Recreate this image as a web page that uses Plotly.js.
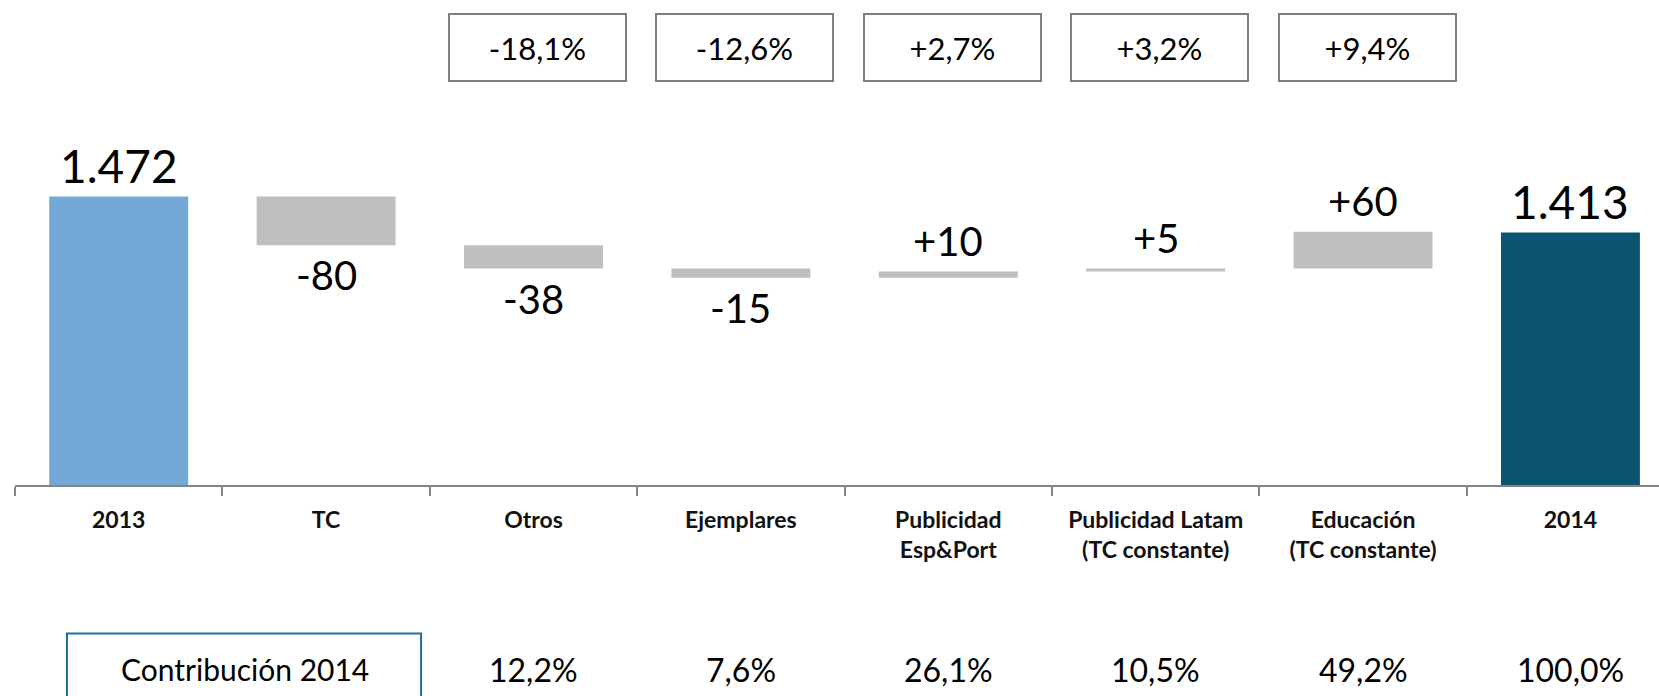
<!DOCTYPE html>
<html>
<head>
<meta charset="utf-8">
<script src="https://cdn.plot.ly/plotly-3.0.1.min.js"></script>
<style>
  html, body { margin: 0; padding: 0; background: #ffffff; }
  #chart { width: 1659px; height: 696px; }
</style>
</head>
<body>
<div id="chart"></div>
<script>
// ---- data ----
var categories = ['2013', 'TC', 'Otros', 'Ejemplares', 'Publicidad Esp&Port', 'Publicidad Latam', 'Educación', '2014'];
var tickLabels = ['2013', 'TC', 'Otros', 'Ejemplares', 'Publicidad<br>Esp&Port', 'Publicidad Latam<br>(TC constante)', 'Educación<br>(TC constante)', '2014'];
var values = [1472, -80, -38, -15, 10, 5, 60, 1413];
var measures = ['total', 'relative', 'relative', 'relative', 'relative', 'relative', 'relative', 'total'];
var valueLabels = ['1.472', '-80', '-38', '-15', '+10', '+5', '+60', '1.413'];
var growthCategories = ['Otros', 'Ejemplares', 'Publicidad Esp&Port', 'Publicidad Latam', 'Educación'];
var growthLabels = ['-18,1%', '-12,6%', '+2,7%', '+3,2%', '+9,4%'];
var contributionCategories = ['Otros', 'Ejemplares', 'Publicidad Esp&Port', 'Publicidad Latam', 'Educación', '2014'];
var contributionLabels = ['12,2%', '7,6%', '26,1%', '10,5%', '49,2%', '100,0%'];
var contributionTitle = 'Contribución 2014';

// ---- derived: bar bases for the waterfall ----
var bases = [], heights = [], ends = [], colors = [];
var running = 0;
for (var i = 0; i < values.length; i++) {
  if (measures[i] === 'total') {
    bases.push(0); heights.push(values[i]); running = values[i];
    ends.push(values[i]);
    colors.push(i === 0 ? '#74A9D7' : '#0B5571');
  } else {
    bases.push(running); heights.push(values[i]);
    running += values[i];
    ends.push(running);
    colors.push('#BFBFBF');
  }
}
function catIndex(name) { return categories.indexOf(name); }

var font = 'Lato, "Open Sans", sans-serif';

var trace = {
  type: 'bar',
  x: categories,
  y: heights,
  base: bases,
  marker: { color: colors, line: { width: 0 } },
  hoverinfo: 'skip',
  showlegend: false
};

var annotations = [];
// value labels
for (var k = 0; k < categories.length; k++) {
  var neg = values[k] < 0;
  annotations.push({
    x: k, y: ends[k], xref: 'x', yref: 'y',
    text: valueLabels[k], showarrow: false,
    yanchor: 'middle', yshift: neg ? -30 : 31,
    font: { family: font, size: measures[k] === 'total' ? 46 : 40, color: '#000000' }
  });
}
// growth boxes
for (var g = 0; g < growthCategories.length; g++) {
  annotations.push({
    x: catIndex(growthCategories[g]), y: 1.107, xref: 'x', yref: 'paper',
    text: growthLabels[g], showarrow: false, yanchor: 'middle',
    xshift: 4,
    width: 175, height: 65, borderpad: 0, borderwidth: 2, bordercolor: '#7F7F7F',
    bgcolor: '#ffffff',
    font: { family: font, size: 31, color: '#000000' }
  });
}
// contribution row
for (var c = 0; c < contributionCategories.length; c++) {
  annotations.push({
    x: catIndex(contributionCategories[c]), y: -0.467, xref: 'x', yref: 'paper',
    text: contributionLabels[c], showarrow: false, yanchor: 'middle',
    font: { family: font, size: 32, color: '#000000' }
  });
}
annotations.push({
  x: 0.1396, y: -0.467, xref: 'paper', yref: 'paper',
  text: contributionTitle, showarrow: false, yanchor: 'middle', xanchor: 'center',
  font: { family: font, size: 30, color: '#000000' }
});

var layout = {
  width: 1659, height: 696,
  margin: { l: 15, r: 0, t: 90, b: 211, pad: 0 },
  paper_bgcolor: '#ffffff', plot_bgcolor: '#ffffff',
  bargap: 0.33,
  xaxis: {
    type: 'category',
    categoryorder: 'array', categoryarray: categories,
    tickvals: categories, ticktext: tickLabels,
    range: [-0.5, 7.427],
    tickson: 'boundaries',
    ticks: 'outside', ticklen: 9, tickwidth: 2, tickcolor: '#858585',
    showline: true, linecolor: '#858585', linewidth: 2,
    showgrid: false, zeroline: false,
    tickfont: { family: font, size: 23, color: '#111111', weight: 'bold' },
    ticklabelstandoff: 13,
    fixedrange: true
  },
  yaxis: {
    range: [1000, 1646],
    visible: false, showgrid: false, zeroline: false,
    fixedrange: true
  },
  shapes: [{
    type: 'rect', xref: 'paper', yref: 'paper',
    x0: 0.0316, x1: 0.247, y0: -0.57, y1: -0.376,
    line: { color: '#1F6E9C', width: 2 }, fillcolor: 'rgba(0,0,0,0)'
  }],
  annotations: annotations
};

Plotly.newPlot('chart', [trace], layout, { staticPlot: true, displayModeBar: false });
</script>
</body>
</html>
